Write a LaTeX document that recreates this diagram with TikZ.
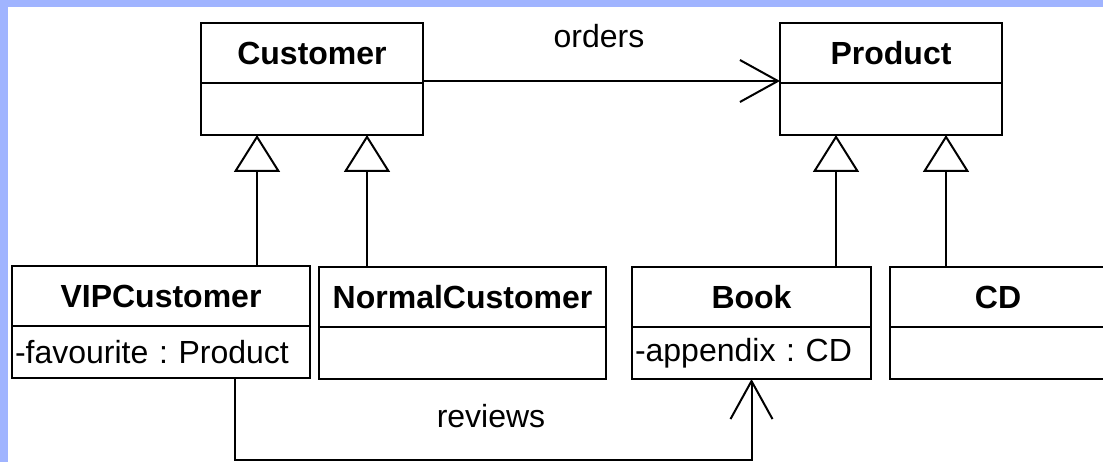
\documentclass[tikz,border=0pt]{standalone}
\usepackage{fontspec}
\setmainfont{Liberation Sans}
\usetikzlibrary{arrows.meta}
\definecolor{framebg}{RGB}{160,180,255}
\frenchspacing

\begin{document}
\begin{tikzpicture}[x=1pt,y=-1pt,>={Straight Barb[length=38pt,width=42pt]},
    every node/.style={font=\fontsize{32}{38}\selectfont},
    cls/.style={draw,line width=2pt,outer sep=0pt,minimum height=60pt,inner sep=0pt,anchor=north west,font=\fontsize{32}{38}\selectfont\bfseries},
    attr/.style={draw,line width=2pt,outer sep=0pt,minimum height=52pt,inner sep=3pt,align=left,anchor=north},
    inh/.style={line width=2pt,-{Triangle[open,length=37pt,width=46pt]}},
    assoc/.style={line width=2pt,->}]
    \useasboundingbox (0,0) rectangle (1103,462);
    \fill[framebg] (0,0) rectangle (1103,462);
    \fill[white] (8,7) rectangle (1103,462);
    % classes
    \foreach \n/\x/\y/\w/\lab/\fld in {cust/201/23/222/Customer/{},prod/780/23/222/Product/{},
        vip/12/266/298/VIPCustomer/{-favourite : Product},normal/319/267/287/NormalCustomer/{},
        book/632/267/239/Book/{-appendix : CD},cd/890/267/216/CD/{}}
    {
        \pgfmathsetmacro\tw{\w-6}
        \node[cls,minimum width=\w] (\n) at (\x,\y) {\lab};
        \node[attr,minimum width=\w,text width=\tw pt] (\n-a) at (\n.south) {\fld};
    }
    % generalizations
    \foreach \child/\parent/\dx in {vip/cust/-55,normal/cust/55,book/prod/-55,cd/prod/55}
    {
        \draw[inh]([xshift=\dx pt]\parent-a.south |- \child.north)--([xshift=\dx pt]\parent-a.south);
    }
    % associations
    \draw[assoc]([yshift=2pt]cust.south east)--([yshift=2pt]prod.south west);
    \node (orders) at (599,36) {orders};
    \draw[assoc]([xshift=74pt]vip-a.south)--++(0,82)-|(book-a.south);
    \node (reviews) at (491,416) {reviews};
\end{tikzpicture}
\end{document}
